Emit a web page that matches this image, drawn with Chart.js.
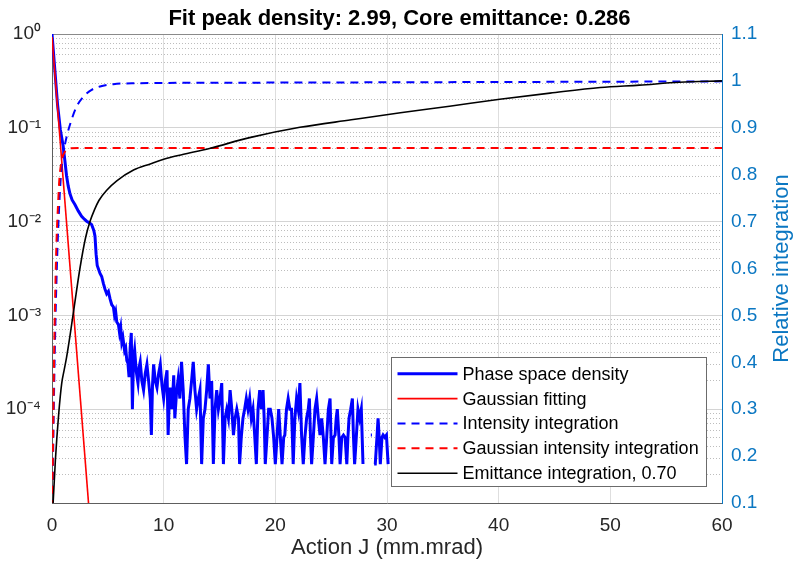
<!DOCTYPE html>
<html><head><meta charset="utf-8">
<script src="https://cdn.jsdelivr.net/npm/chart.js@4.4.1/dist/chart.umd.min.js"></script>
<style>html,body{margin:0;padding:0;background:#fff;} #wrap{width:799px;height:567px;}</style>
</head><body><div id="wrap"><canvas id="c" width="799" height="567"></canvas></div>
<script>
const FONT = "'Liberation Sans', Arial, sans-serif";
const titleText = 'Fit peak density: 2.99, Core emittance: 0.286';
const xTitle = 'Action J (mm.mrad)';
const rightTitle = 'Relative integration';
const seriesLabels = ['Phase space density', 'Gaussian fitting', 'Intensity integration',
  'Gaussian intensity integration', 'Emittance integration, 0.70'];

const xTicks = [0, 10, 20, 30, 40, 50, 60];
const xTickLabels = ['0', '10', '20', '30', '40', '50', '60'];
const leftMajorTicks = [1, 0.1, 0.01, 0.001, 0.0001, 0.00001];
const leftTickLabels = ['10⁰', '10⁻¹', '10⁻²', '10⁻³', '10⁻⁴', ''];
const rightTicks = [0.1, 0.2, 0.3, 0.4, 0.5, 0.6, 0.7, 0.8, 0.9, 1.0, 1.1];
const rightTickLabels = ['0.1', '0.2', '0.3', '0.4', '0.5', '0.6', '0.7', '0.8', '0.9', '1', '1.1'];

// Phase space density (left, log)
const densityJ = [
  0, 0.25, 0.5, 0.75, 1.0, 1.15, 1.3, 1.45, 1.6, 1.8,
  2.05, 2.35, 2.65, 2.9, 3.1, 3.35, 3.55, 3.75, 3.85, 3.95,
  4.05, 4.3, 4.45, 4.6, 4.75, 4.9, 5.05, 5.2, 5.35, 5.5,
  5.6, 5.7, 5.8, 5.95, 6.05, 6.15, 6.25, 6.35, 6.5, 6.6,
  6.7, 6.8, 6.9, 7.0, 7.1, 7.2, 7.3, 7.4, 7.55, 7.7,
  7.8, 7.9, 8.05, 8.2, 8.35, 8.5, 8.65, 8.8, 8.9, 9.0,
  9.1, 9.25, 9.4, 9.55, 9.7, 9.85, 10.0, 10.15, 10.3, 10.4,
  10.5, 10.6, 10.75, 10.9, 11.0, 11.15, 11.3, 11.45, 11.6, 11.75,
  11.9, 12.05, 12.2, 12.35, 12.5, 12.65, 12.8, 12.95, 13.1, 13.25,
  13.4, 13.55, 13.7, 13.85, 14.0, 14.15, 14.3, 14.45, 14.6, 14.75,
  14.9, 15.05, 15.2, 15.35, 15.5, 15.65, 15.8, 15.95, 16.1, 16.25,
  16.4, 16.55, 16.7, 16.8, 16.95, 17.1, 17.25, 17.4, 17.55, 17.7,
  17.85, 18.0, 18.15, 18.3, 18.45, 18.6, 18.75, 18.9, 19.0, 19.1,
  19.25, 19.4, 19.55, 19.7, 19.85, 20.0, 20.15, 20.3, 20.45, 20.6,
  20.75, 20.85, 21.0, 21.15, 21.3, 21.45, 21.6, 21.75, 21.9, 22.05,
  22.2, 22.35, 22.5, 22.65, 22.8, 22.95, 23.05, 23.15, 23.25, 23.4,
  23.55, 23.7, 23.85, 24.0, 24.15, 24.3, 24.45, 24.6, 24.75, 24.9,
  25.05, 25.2, 25.35, 25.45, 25.55, 25.7, 25.8, 25.95, 26.1, 26.25,
  26.4, 26.5, 26.6, 26.75, 26.9, 27.0, 27.1, 27.25, 27.4, 27.55,
  27.7, 27.85, 27.95, 28.5, 28.55, 28.65, 28.75, 28.85, 28.95, 29.1,
  29.2, 29.3, 29.4, 29.55, 29.65, 29.8, 29.95, 30.1, 30.2
];
const densityValues = [
  1.0, 0.42, 0.175, 0.095, 0.064, 0.045, 0.031, 0.024, 0.020, 0.017,
  0.0152, 0.0130, 0.0114, 0.0106, 0.0101, 0.0097, 0.0093, 0.0080, 0.0070, 0.0045,
  0.0034, 0.0028, 0.0026, 0.0022, 0.0019, 0.0017, 0.0018, 0.0015, 0.0013, 0.00123,
  0.0010, 0.0011, 0.00085, 0.0008, 0.00065, 0.00075, 0.00052, 0.00058, 0.00042, 0.00045,
  0.00033, 0.00031, 0.00022, 0.00045, 0.00065, 0.0001, 0.00035, 0.00043, 0.00025, 0.00019,
  0.00028, 0.00032, 0.0002, 0.00016, 0.00024, 0.0003, 0.0002, 0.00013, 0.000053, 0.00018,
  0.0003, 0.0002, 0.00017, 0.00024, 0.0003, 0.00018, 0.00013, 0.0002, 0.00026, 0.000053,
  0.00012, 0.00017, 0.0001, 0.00023, 0.00008, 0.00015, 0.00021, 0.00013, 0.00032, 0.00016,
  0.000053, 0.000026, 0.0001, 0.00013, 0.0002, 0.00032, 0.00016, 0.0001, 0.00013, 0.00016,
  0.000026, 0.00008, 0.0001, 0.00016, 0.0003, 0.00013, 0.0002, 0.000026, 0.0001, 0.00016,
  0.0001, 0.00013, 0.00019, 0.000026, 0.00008, 0.0001, 0.00008, 0.00016, 0.0001, 0.000053,
  0.00008, 0.0001, 0.00008, 0.000026, 0.00005, 0.00008, 0.0001, 0.00013, 0.0001, 0.00013,
  0.00008, 0.0001, 0.000053, 0.000026, 0.0001, 0.00016, 0.0001, 0.00016, 0.00008, 0.000026,
  0.00005, 0.0001, 0.0001, 0.00008, 0.00005, 0.000026, 0.00005, 0.0001, 0.00005, 0.000026,
  0.00005, 0.000053, 0.0001, 0.00013, 0.0001, 0.0001, 0.000026, 0.00008, 0.00013, 0.0001,
  0.00019, 0.000053, 0.000026, 0.00005, 0.00008, 0.0001, 0.00013, 0.00005, 0.000026, 0.00005,
  0.0001, 0.00013, 0.00008, 0.000053, 0.00008, 0.00005, 0.000026, 0.00005, 0.0001, 0.00013,
  0.000026, 0.00005, 0.000053, 0.00008, 0.0001, 0.00005, 0.000026, 0.00005, 0.000053, 0.00005,
  0.000026, 0.00005, 0.00008, 0.0001, 0.00013, 0.00005, 0.000026, 0.00005, 0.0001, 0.00008,
  0.0001, 0.000026, null, null, 0.000053, 0.000053, null, 0.000026, 0.000026, 0.00005,
  0.00008, 0.00005, 0.000026, 0.00005, 0.000053, 0.00005, 0.000053, 0.000026, null
];

// Gaussian fitting (left, log)
const fitJ = [0, 3.5];
const fitValues = [0.93, 0.0000045];

// Intensity integration (right)
const intensityJ = [0, 0.1, 0.2, 0.35, 0.5, 0.7, 0.87, 1.05, 1.3, 1.75, 2.2, 2.8, 3.55, 4.3, 5.5, 7.3, 14, 30, 45, 60];
const intensityValues = [0, 0.2, 0.36, 0.53, 0.65, 0.76, 0.82, 0.85, 0.88, 0.917, 0.945, 0.966, 0.981, 0.988, 0.993, 0.995, 0.996, 0.997, 0.998, 0.999];

// Gaussian intensity integration (right)
const gaussIntJ = [0, 0.05, 0.1, 0.2, 0.3, 0.42, 0.55, 0.66, 0.87, 1.16, 1.6, 2.5, 60];
const gaussIntValues = [0, 0.14, 0.25, 0.43, 0.56, 0.67, 0.74, 0.79, 0.83, 0.849, 0.856, 0.857, 0.857];

// Emittance integration (right)
const emitJ = [0, 0.1, 0.3, 0.6, 0.87, 1.1, 1.3, 1.6, 2.0, 2.5, 3.0, 3.4, 3.8, 4.2, 4.9, 5.8, 7.3, 8.8, 10.3, 11.7,
  14.1, 17.7, 22.2, 26.8, 31.2, 35.6, 40.1, 44.6, 49.1, 52.6, 56.2, 60];
const emitValues = [0.06, 0.1, 0.19, 0.29, 0.355, 0.385, 0.41, 0.455, 0.52, 0.6, 0.665, 0.70, 0.725, 0.745, 0.767, 0.787, 0.81, 0.823, 0.835, 0.843,
  0.856, 0.879, 0.901, 0.917, 0.932, 0.946, 0.961, 0.974, 0.986, 0.991, 0.997, 1.0];

const pairs = (xs, ys) => xs.map((x, i) => ({x: x, y: ys[i]}));

const RIGHT_COLOR = '#0b77c2';
const AXIS_COLOR = '#262626';
const isPow10 = v => Math.abs(Math.log10(v) - Math.round(Math.log10(v))) < 1e-6;

const boxLegend = {
  id: 'boxLegend',
  afterDatasetsDraw(chart) {
    const {ctx, chartArea: a} = chart;
    const items = chart.data.datasets;
    ctx.save();
    ctx.font = '18px ' + FONT;
    const textW = Math.max(...items.map(d => ctx.measureText(d.label).width));
    const pad = 6, sample = 60, gap = 5, rowH = 24.85, firstRow = 16.3;
    const w = pad + sample + gap + textW + 8;
    const h = firstRow + rowH * (items.length - 1) + 13.3;
    const x0 = Math.round(a.right - 16 - w) + 0.5;
    const y0 = Math.round(a.bottom - 17 - h) + 0.5;
    ctx.fillStyle = '#ffffff';
    ctx.fillRect(x0, y0, w, h);
    ctx.strokeStyle = '#6b6b6b';
    ctx.lineWidth = 1;
    ctx.strokeRect(x0, y0, Math.round(w), Math.round(h));
    items.forEach((d, i) => {
      const cy = y0 + firstRow + i * rowH;
      ctx.beginPath();
      ctx.setLineDash(d.borderDash || []);
      ctx.strokeStyle = d.borderColor;
      ctx.lineWidth = d.borderWidth;
      ctx.moveTo(x0 + pad, cy);
      ctx.lineTo(x0 + pad + sample, cy);
      ctx.stroke();
      ctx.setLineDash([]);
      ctx.fillStyle = '#000';
      ctx.textBaseline = 'middle';
      ctx.textAlign = 'left';
      ctx.fillText(d.label, x0 + pad + sample + gap, cy + 1);
    });
    ctx.restore();
  }
};

const rightTitlePlugin = {
  id: 'rightTitle',
  afterDraw(chart) {
    const {ctx, chartArea: a} = chart;
    ctx.save();
    ctx.translate(782, (a.top + a.bottom) / 2);
    ctx.rotate(-Math.PI / 2);
    ctx.font = '22px ' + FONT;
    ctx.fillStyle = RIGHT_COLOR;
    ctx.textAlign = 'center';
    ctx.textBaseline = 'middle';
    ctx.fillText(rightTitle, 0, 0);
    ctx.restore();
  }
};

new Chart(document.getElementById('c'), {
  type: 'line',
  data: {
    datasets: [
      {label: seriesLabels[0], data: pairs(densityJ, densityValues), yAxisID: 'y', xAxisID: 'x',
        borderColor: '#0000ff', borderWidth: 3, pointRadius: 0, spanGaps: false, order: 5},
      {label: seriesLabels[1], data: pairs(fitJ, fitValues), yAxisID: 'y', xAxisID: 'x',
        borderColor: '#ff0000', borderWidth: 1.6, pointRadius: 0, order: 4},
      {label: seriesLabels[2], data: pairs(intensityJ, intensityValues), yAxisID: 'y2', xAxisID: 'x',
        borderColor: '#0000ff', borderWidth: 2, borderDash: [8, 6], pointRadius: 0, order: 3,
        cubicInterpolationMode: 'monotone'},
      {label: seriesLabels[3], data: pairs(gaussIntJ, gaussIntValues), yAxisID: 'y2', xAxisID: 'x',
        borderColor: '#ff0000', borderWidth: 2, borderDash: [8, 6], pointRadius: 0, order: 2,
        cubicInterpolationMode: 'monotone'},
      {label: seriesLabels[4], data: pairs(emitJ, emitValues), yAxisID: 'y2', xAxisID: 'x',
        borderColor: '#000000', borderWidth: 1.6, pointRadius: 0, order: 1,
        cubicInterpolationMode: 'monotone'}
    ]
  },
  options: {
    responsive: false,
    animation: false,
    devicePixelRatio: 1,
    layout: {padding: 0},
    elements: {line: {tension: 0}},
    plugins: {
      legend: {display: false},
      tooltip: {enabled: false},
      title: {display: true, text: titleText, color: '#000',
        font: {family: FONT, size: 22, weight: 'bold'}, padding: {top: 6, bottom: 1.6}}
    },
    scales: {
      x: {
        type: 'linear', position: 'bottom', min: 0, max: 60,
        afterBuildTicks: s => { s.ticks = xTicks.map(v => ({value: v})); },
        ticks: {callback: (v) => xTickLabels[xTicks.indexOf(v)], color: AXIS_COLOR,
          font: {family: FONT, size: 19}, padding: 11, maxRotation: 0, autoSkip: false},
        grid: {color: '#dedede', drawTicks: false},
        border: {color: '#5e5e5e'},
        title: {display: true, text: xTitle, color: AXIS_COLOR,
          font: {family: FONT, size: 22}, padding: {top: 0, bottom: 6}},
        afterFit: s => { s.height = 64; }
      },
      xTop: {
        type: 'linear', position: 'top', min: 0, max: 60,
        ticks: {display: false},
        grid: {drawOnChartArea: false, drawTicks: false},
        border: {color: '#8a8a8a'},
        afterFit: s => { s.height = 0; }
      },
      y: {
        type: 'logarithmic', position: 'left', min: 0.00001, max: 1,
        afterBuildTicks: s => {
          const t = [];
          leftMajorTicks.forEach(d => {
            t.push({value: d});
            if (d < 1) for (let m = 2; m <= 9; m++) t.push({value: d * m});
          });
          s.ticks = t.sort((a, b) => a.value - b.value);
        },
        ticks: {
          autoSkip: false, color: AXIS_COLOR, padding: 11,
          font: {family: FONT, size: 19},
          callback: (v) => {
            const i = leftMajorTicks.findIndex(m => Math.abs(m - v) / m < 1e-6);
            return i >= 0 ? leftTickLabels[i] : '';
          }
        },
        grid: {
          drawTicks: false,
          color: c => (c.tick && isPow10(c.tick.value)) ? '#d4d4d4' : '#bdbdbd'
        },
        border: {
          color: '#5e5e5e',
          dash: c => (c.tick && !isPow10(c.tick.value)) ? [1, 2] : []
        },
        afterFit: s => { s.width = 52; }
      },
      y2: {
        type: 'linear', position: 'right', min: 0.1, max: 1.1,
        afterBuildTicks: s => { s.ticks = rightTicks.map(v => ({value: v})); },
        ticks: {
          color: RIGHT_COLOR, padding: 9, autoSkip: false,
          font: {family: FONT, size: 19},
          callback: (v) => {
            const i = rightTicks.findIndex(m => Math.abs(m - v) < 1e-9);
            return i >= 0 ? rightTickLabels[i] : '';
          }
        },
        grid: {drawOnChartArea: false, drawTicks: false},
        border: {color: RIGHT_COLOR},
        afterFit: s => { s.width = 77; }
      }
    }
  },
  plugins: [boxLegend, rightTitlePlugin]
});
</script>
</body></html>
